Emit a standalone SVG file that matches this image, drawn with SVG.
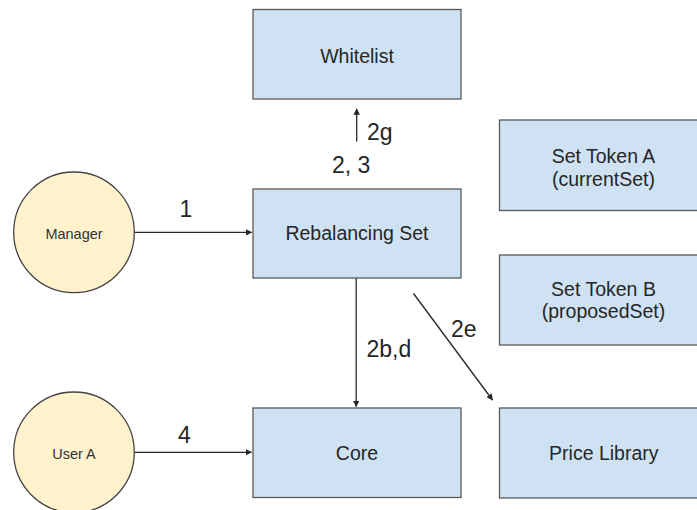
<svg xmlns="http://www.w3.org/2000/svg" width="697" height="510" viewBox="0 0 697 510">
  <style>
    .box { fill: #cfe2f3; stroke: #595959; stroke-width: 1.3; }
    .actor { fill: #fff2cc; stroke: #434343; stroke-width: 1.3; }
    .lbl { font-family: "Liberation Sans", Arial, sans-serif; fill: #262626; }
    .node { font-size: 19.5px; text-anchor: middle; }
    .small { font-size: 14.5px; text-anchor: middle; fill: #333333; }
    .step { font-size: 23px; }
    .edge { stroke: #262626; stroke-width: 1.3; fill: none; marker-end: url(#arrow); }
  </style>
  <defs>
    <marker id="arrow" viewBox="0 0 10 10" refX="9" refY="5" markerWidth="5" markerHeight="5" markerUnits="strokeWidth" orient="auto">
      <path d="M0,0 L10,5 L0,10 Z" fill="#262626"/>
    </marker>
  </defs>
  <rect width="697" height="510" fill="#ffffff"/>

  <!-- connectors -->
  <g id="connectors">
    <line class="edge" x1="356.7" y1="141.5" x2="356.7" y2="109"/>
    <line class="edge" x1="134.5" y1="232.3" x2="251.5" y2="232.3"/>
    <line class="edge" x1="134.5" y1="452.3" x2="251.5" y2="452.3"/>
    <line class="edge" x1="356.2" y1="278" x2="356.2" y2="406.5"/>
    <line class="edge" x1="413.5" y1="293.5" x2="492.5" y2="400"/>
    <text class="lbl step" x="367" y="140">2g</text>
    <text class="lbl step" x="332" y="172.5">2, 3</text>
    <text class="lbl step" x="186" y="216.7" text-anchor="middle">1</text>
    <text class="lbl step" x="184.5" y="443.3" text-anchor="middle">4</text>
    <text class="lbl step" x="366.5" y="357.3">2b,d</text>
    <text class="lbl step" x="451" y="336.7">2e</text>
  </g>

  <g id="whitelist">
    <rect class="box" x="253" y="9.5" width="208" height="89.5"/>
    <text class="lbl node" x="357" y="62.5">Whitelist</text>
  </g>
  <g id="rebalancing-set">
    <rect class="box" x="253" y="189" width="208" height="89"/>
    <text class="lbl node" x="357" y="240">Rebalancing Set</text>
  </g>
  <g id="core">
    <rect class="box" x="253" y="408" width="208" height="89.5"/>
    <text class="lbl node" x="357" y="460">Core</text>
  </g>
  <g id="set-token-a">
    <rect class="box" x="499.5" y="120" width="208" height="90.5"/>
    <text class="lbl node" x="603.5" y="162.5">Set Token A</text>
    <text class="lbl node" x="603.5" y="185.5">(currentSet)</text>
  </g>
  <g id="set-token-b">
    <rect class="box" x="499.5" y="255" width="208" height="90"/>
    <text class="lbl node" x="603.5" y="295.5">Set Token B</text>
    <text class="lbl node" x="603.5" y="318">(proposedSet)</text>
  </g>
  <g id="price-library">
    <rect class="box" x="499.5" y="408" width="208" height="90"/>
    <text class="lbl node" x="603.8" y="460">Price Library</text>
  </g>
  <g id="manager">
    <circle class="actor" cx="74" cy="232.3" r="60.3"/>
    <text class="lbl small" x="74" y="239">Manager</text>
  </g>
  <g id="user-a">
    <circle class="actor" cx="74" cy="452.3" r="60.3"/>
    <text class="lbl small" x="74" y="459">User A</text>
  </g>
</svg>
